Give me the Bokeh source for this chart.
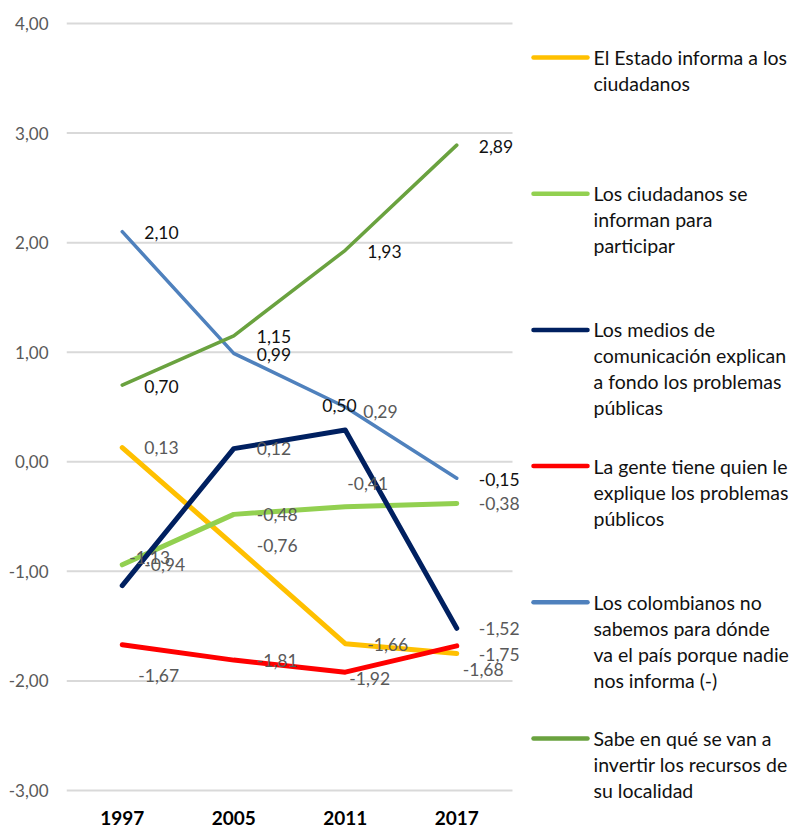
from bokeh.plotting import figure
from bokeh.models import ColumnDataSource, Range1d, FixedTicker, LabelSet
from bokeh.embed import file_html
from bokeh.resources import INLINE
from bokeh.core.properties import value

# ---------------- data ----------------
years = ["1997", "2005", "2011", "2017"]
estado = [0.13, -0.76, -1.66, -1.75]
ciudadanos = [-0.94, -0.48, -0.41, -0.38]
medios = [-1.13, 0.12, 0.29, -1.52]
gente = [-1.67, -1.81, -1.92, -1.68]
colombianos = [2.10, 0.99, 0.50, -0.15]
sabe = [0.70, 1.15, 1.93, 2.89]

y_ticks = [-3, -2, -1, 0, 1, 2, 3, 4]
y_tick_labels = ["-3,00", "-2,00", "-1,00", "0,00", "1,00", "2,00", "3,00", "4,00"]

series_names = [
    ["El Estado informa a los", "ciudadanos"],
    ["Los ciudadanos se", "informan para", "participar"],
    ["Los medios de", "comunicación explican", "a fondo los problemas", "públicas"],
    ["La gente tiene quien le", "explique los problemas", "públicos"],
    ["Los colombianos no", "sabemos para dónde", "va el país porque nadie", "nos informa (-)"],
    ["Sabe en qué se van a", "invertir los recursos de", "su localidad"],
]
series_values = [estado, ciudadanos, medios, gente, colombianos, sabe]

# ---------------- styles ----------------
colors = ["#FFC000", "#92D050", "#002060", "#FF0000", "#4F81BD", "#6AA23F"]
widths = [5, 5, 5, 5, 3.5, 3.5]
label_colors = ["#595959", "#595959", "#595959", "#595959", "#111111", "#111111"]
# label offsets in pixels (dx right, dy down) per series per point
label_dx = [
    [22, 23, 22, 22],
    [22, 23, 2, 22],
    [7, 23, 18, 22],
    [16, 23, 4, 6],
    [22, 23, -23, 22],
    [22, 23, 22, 22],
]
label_dy = [
    [0, 0, 1, 1],
    [0, 0, -23, 0],
    [-28, 0, -19, 0],
    [31, 0, 6, 24],
    [1, 1, -1, 1],
    [1, 1, 1, 1],
]

FONT = "Lato"
VAL_SIZE = "17.5px"

# layout geometry (pixels)
W = 794
FRAME_L = 66          # left edge of plot area
BAND = 111.5          # width of one category band
FRAME_W = W - FRAME_L
FRAME_H = 798
PX_PER_UNIT = 109.571
TOP_PX = 23           # pixel of the top tick
n = len(years)
xi = list(range(n))

y_top = y_ticks[-1] + TOP_PX / PX_PER_UNIT
y_bot = y_top - FRAME_H / PX_PER_UNIT

p = figure(
    x_range=Range1d(-0.5, -0.5 + FRAME_W / BAND),
    y_range=Range1d(y_bot, y_top),
    frame_width=FRAME_W, frame_height=FRAME_H,
    min_border_left=FRAME_L, min_border_right=0, min_border_top=0, min_border_bottom=0,
    output_backend="svg", toolbar_location=None,
    background_fill_color="white", border_fill_color="white",
    outline_line_color=None,
)
# pixel-space ranges for the legend panel
p.extra_x_ranges = {"px": Range1d(FRAME_L, W)}
p.extra_y_ranges = {"py": Range1d(FRAME_H, 0)}

p.xgrid.grid_line_color = None
p.ygrid.grid_line_color = None
# horizontal gridlines limited to the category area
p.segment(x0=[-0.5] * len(y_ticks), x1=[n - 0.5] * len(y_ticks), y0=y_ticks, y1=y_ticks,
          line_color="#d9d9d9", line_width=2)

p.yaxis.ticker = FixedTicker(ticks=y_ticks)
p.yaxis.major_label_overrides = {float(t): lab for t, lab in zip(y_ticks, y_tick_labels)}
p.yaxis.axis_line_color = None
p.yaxis.major_tick_line_color = None
p.yaxis.minor_tick_line_color = None
p.yaxis.major_tick_out = 0
p.yaxis.minor_tick_out = 0
p.yaxis.major_label_standoff = 18
p.yaxis.major_label_text_font = FONT
p.yaxis.major_label_text_font_size = "17px"
p.yaxis.major_label_text_color = "#595959"

p.xaxis.ticker = FixedTicker(ticks=xi)
p.xaxis.major_label_overrides = {float(i): y for i, y in zip(xi, years)}
p.xaxis.axis_line_color = None
p.xaxis.major_tick_line_color = None
p.xaxis.minor_tick_line_color = None
p.xaxis.major_tick_out = 0
p.xaxis.minor_tick_out = 0
p.xaxis.major_label_standoff = 12
p.xaxis.major_label_text_font = FONT
p.xaxis.major_label_text_font_style = "bold"
p.xaxis.major_label_text_font_size = "19px"
p.xaxis.major_label_text_color = "#000000"

lx, ly, lt, ldx, ldy, lc = [], [], [], [], [], []
for i, vals in enumerate(series_values):
    p.line(x=xi, y=vals, line_color=colors[i], line_width=widths[i],
           line_cap="round", line_join="round")
    for j, v in enumerate(vals):
        lx.append(xi[j])
        ly.append(v)
        lt.append(f"{v:.2f}".replace(".", ","))
        ldx.append(label_dx[i][j])
        ldy.append(-label_dy[i][j])
        lc.append(label_colors[i])

lsrc = ColumnDataSource(dict(x=lx, y=ly, text=lt, dx=ldx, dy=ldy, c=lc))
labels = LabelSet(x="x", y="y", text="text", x_offset="dx", y_offset="dy", text_color="c",
                  text_font=value(FONT), text_font_size=VAL_SIZE,
                  text_baseline="middle", text_align="left", source=lsrc)
p.add_layout(labels)

# ---------------- legend (drawn in pixel-space ranges) ----------------
item_y0 = 57
item_step = 136.2
line_step = 26
LEG_X0, LEG_X1, LEG_TX = 533, 587, 593
tx, ty, tt = [], [], []
for i, name_lines in enumerate(series_names):
    yy = item_y0 + i * item_step
    p.segment(x0=[LEG_X0], x1=[LEG_X1], y0=[yy], y1=[yy], line_color=colors[i], line_width=4.5,
              line_cap="round", x_range_name="px", y_range_name="py")
    for k, s in enumerate(name_lines):
        tx.append(LEG_TX)
        ty.append(yy + k * line_step)
        tt.append(s)

p.text(x=tx, y=ty, text=tt, text_color="#111111", text_font=value(FONT),
       text_font_size="19.5px", text_baseline="middle", text_align="left",
       x_range_name="px", y_range_name="py")

open("out.html", "w").write(file_html(p, INLINE))
